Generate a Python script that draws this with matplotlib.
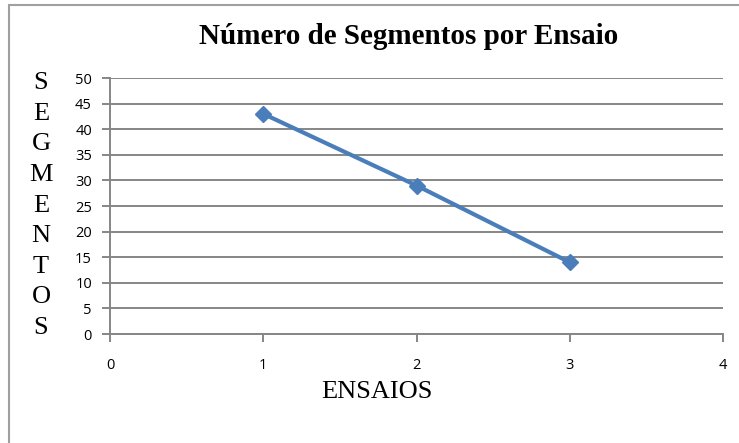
import matplotlib
matplotlib.use('Agg')
import matplotlib.pyplot as plt
from matplotlib.patches import Rectangle

ensaios = [1, 2, 3]
segmentos = [43, 29, 14]
x_ticks = [0, 1, 2, 3, 4]
y_ticks = list(range(0, 55, 5))
titulo = 'Número de Segmentos por Ensaio'
rotulo_y = 'SEGMENTOS'
rotulo_x = 'ENSAIOS'

GRID = '#868686'
AZUL = '#4a7ebb'

fig = plt.figure(figsize=(7.39, 4.43), dpi=100)
# moldura do grafico (estilo Excel)
fig.patches.append(Rectangle((9 / 739, -0.1), 1.1, 1.1 - 5 / 443, transform=fig.transFigure,
                             fill=False, edgecolor='#a0a0a0', linewidth=1.5))

ax = fig.add_axes([110 / 739, 1 - 334 / 443, 613 / 739, 256 / 443])
ax.plot(ensaios, segmentos, color=AZUL, linewidth=3, marker='D', markersize=8,
        markerfacecolor=AZUL, markeredgecolor=AZUL, zorder=3, clip_on=False)

ax.set_xlim(0, 4)
ax.set_ylim(0, 50)
ax.set_xticks(x_ticks)
ax.set_yticks(y_ticks)
ax.yaxis.grid(True, color=GRID, linewidth=1.4)
ax.set_axisbelow(True)
for s in ['top', 'right']:
    ax.spines[s].set_visible(False)
for s in ['left', 'bottom']:
    ax.spines[s].set_color(GRID)
    ax.spines[s].set_linewidth(1.4)
ax.tick_params(axis='both', colors=GRID, width=1.4, length=6, direction='out')
ax.tick_params(axis='x', labelcolor='black', labelsize=10.5, pad=11)
ax.tick_params(axis='y', labelcolor='black', labelsize=10.5, pad=7)
for lab in ax.get_xticklabels() + ax.get_yticklabels():
    lab.set_family('Open Sans')

fig.text(409 / 739, 1 - 37 / 443, titulo, ha='center', va='center',
         family='Liberation Serif', fontweight='bold', fontsize=21)
fig.text(377 / 739, 1 - 392 / 443, rotulo_x, ha='center', va='center',
         family='Liberation Serif', fontsize=19)

# letras do eixo Y empilhadas
n = len(rotulo_y)
for i, letra in enumerate(rotulo_y):
    y = 83 + i * (328 - 83) / (n - 1)
    fig.text(41 / 739, 1 - y / 443, letra, ha='center', va='center',
             family='Liberation Serif', fontsize=19)

fig.savefig('out.png', dpi=100)
